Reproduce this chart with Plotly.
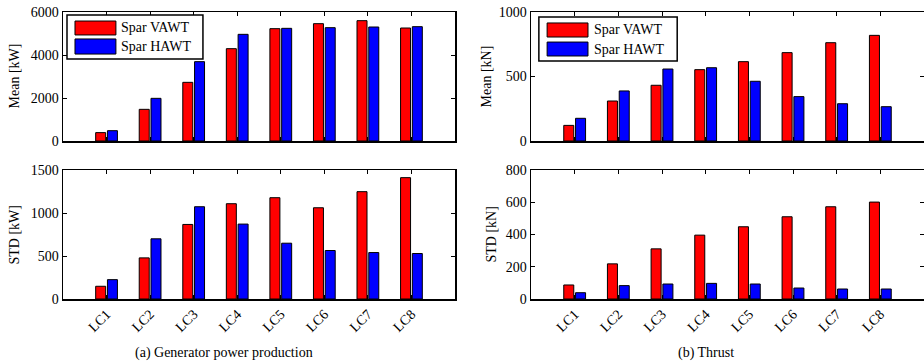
import plotly.graph_objects as go

categories = ["LC1", "LC2", "LC3", "LC4", "LC5", "LC6", "LC7", "LC8"]
series_names = ["Spar VAWT", "Spar HAWT"]
series_colors = ["#ff0000", "#0000ff"]

power_mean_vawt = [390, 1473, 2729, 4295, 5225, 5457, 5597, 5256]
power_mean_hawt = [480, 1984, 3690, 4961, 5240, 5271, 5302, 5318]
power_std_vawt = [148, 478, 867, 1108, 1178, 1061, 1248, 1411]
power_std_hawt = [225, 700, 1073, 871, 649, 564, 540, 529]
thrust_mean_vawt = [121, 310, 432, 553, 615, 685, 762, 819]
thrust_mean_hawt = [176, 388, 558, 568, 463, 344, 289, 266]
thrust_std_vawt = [87, 218, 311, 396, 448, 510, 572, 601]
thrust_std_hawt = [39, 83, 93, 97, 93, 68, 62, 62]

y_titles = ["Mean [kW]", "STD [kW]", "Mean [kN]", "STD [kN]"]
y_ticks = [[0, 2000, 4000, 6000], [0, 500, 1000, 1500], [0, 500, 1000], [0, 200, 400, 600, 800]]
captions = ["(a) Generator power production", "(b) Thrust"]

FONT = "Liberation Serif"
W, H = 924, 363


def px(x):
    return x / W


def py(y):
    return 1 - y / H


fig = go.Figure()

xl = (px(63), px(455))
xr = (px(531), 1.0)
yt = (py(141), py(12))
yb = (py(299), py(170))

panels = [
    ("", xl, yt, (power_mean_vawt, power_mean_hawt), y_ticks[0], y_titles[0], px(14), False),
    ("2", xl, yb, (power_std_vawt, power_std_hawt), y_ticks[1], y_titles[1], px(14), True),
    ("3", xr, yt, (thrust_mean_vawt, thrust_mean_hawt), y_ticks[2], y_titles[2], px(486), False),
    ("4", xr, yb, (thrust_std_vawt, thrust_std_hawt), y_ticks[3], y_titles[3], px(491), True),
]

axis_common = dict(
    showline=True, linecolor="black", linewidth=1.5, mirror="ticks",
    ticks="inside", ticklen=4, tickcolor="black", tickwidth=1,
    showgrid=False, zeroline=False, automargin=False,
    tickfont=dict(family=FONT, size=14, color="black"),
)

for suf, xd, yd, data, ticks, title, tx, show_labels in panels:
    for name, color, vals in zip(series_names, series_colors, data):
        fig.add_trace(go.Bar(
            x=categories, y=vals, name=name, marker_color=color,
            marker_line=dict(color="black", width=1),
            xaxis="x" + suf, yaxis="y" + suf, showlegend=False,
        ))
    fig.update_layout(**{
        "xaxis" + suf: dict(
            domain=list(xd), anchor="y" + suf, type="category",
            range=[-1, len(categories)], showticklabels=show_labels,
            tickangle=-45, **axis_common),
        "yaxis" + suf: dict(
            domain=list(yd), anchor="x" + suf, range=[0, ticks[-1]],
            tickvals=ticks, **axis_common),
    })
    fig.add_annotation(
        text=title, textangle=-90, xref="paper", yref="paper",
        x=tx, y=(yd[0] + yd[1]) / 2, xanchor="center", yanchor="middle",
        showarrow=False, font=dict(family=FONT, size=14, color="black"),
    )

legend_specs = [
    ("", dict(box=(0.0102, 0.357, 0.636, 0.977), sx=(0.0306, 0.135),
              sy=[(0.822, 0.930), (0.674, 0.791)], tx=0.143)),
    ("3", dict(box=(0.020, 0.372, 0.620, 0.961), sx=(0.041, 0.145),
               sy=[(0.806, 0.915), (0.659, 0.767)], tx=0.155)),
]
for suf, spec in legend_specs:
    xr_ = "x" + suf + " domain"
    yr_ = "y" + suf + " domain"
    x0, x1, y0, y1 = spec["box"]
    fig.add_shape(type="rect", xref=xr_, yref=yr_, x0=x0, x1=x1, y0=y0, y1=y1,
                  line=dict(color="black", width=1.5), fillcolor="white", layer="above")
    for name, color, (sy0, sy1) in zip(series_names, series_colors, spec["sy"]):
        fig.add_shape(type="rect", xref=xr_, yref=yr_, x0=spec["sx"][0], x1=spec["sx"][1],
                      y0=sy0, y1=sy1, line=dict(color="black", width=1),
                      fillcolor=color, layer="above")
        fig.add_annotation(text=name, xref=xr_, yref=yr_, x=spec["tx"], y=(sy0 + sy1) / 2,
                           xanchor="left", yanchor="middle", showarrow=False,
                           font=dict(family=FONT, size=14, color="black"))

for cap, cx in zip(captions, [px(224), px(706)]):
    fig.add_annotation(text=cap, xref="paper", yref="paper", x=cx, y=py(353),
                       xanchor="center", yanchor="middle", showarrow=False,
                       font=dict(family=FONT, size=14, color="black"))

fig.update_layout(
    width=W, height=H, margin=dict(l=0, r=0, t=0, b=0),
    paper_bgcolor="white", plot_bgcolor="white",
    barmode="group", bargap=0.46, bargroupgap=0.15,
    showlegend=False, hovermode=False,
    font=dict(family=FONT, size=14, color="black"),
)

fig.write_html(
    "out.html",
    config={"displayModeBar": False, "staticPlot": True},
    post_script="document.body.style.margin='0px';document.body.style.overflow='hidden';",
)
